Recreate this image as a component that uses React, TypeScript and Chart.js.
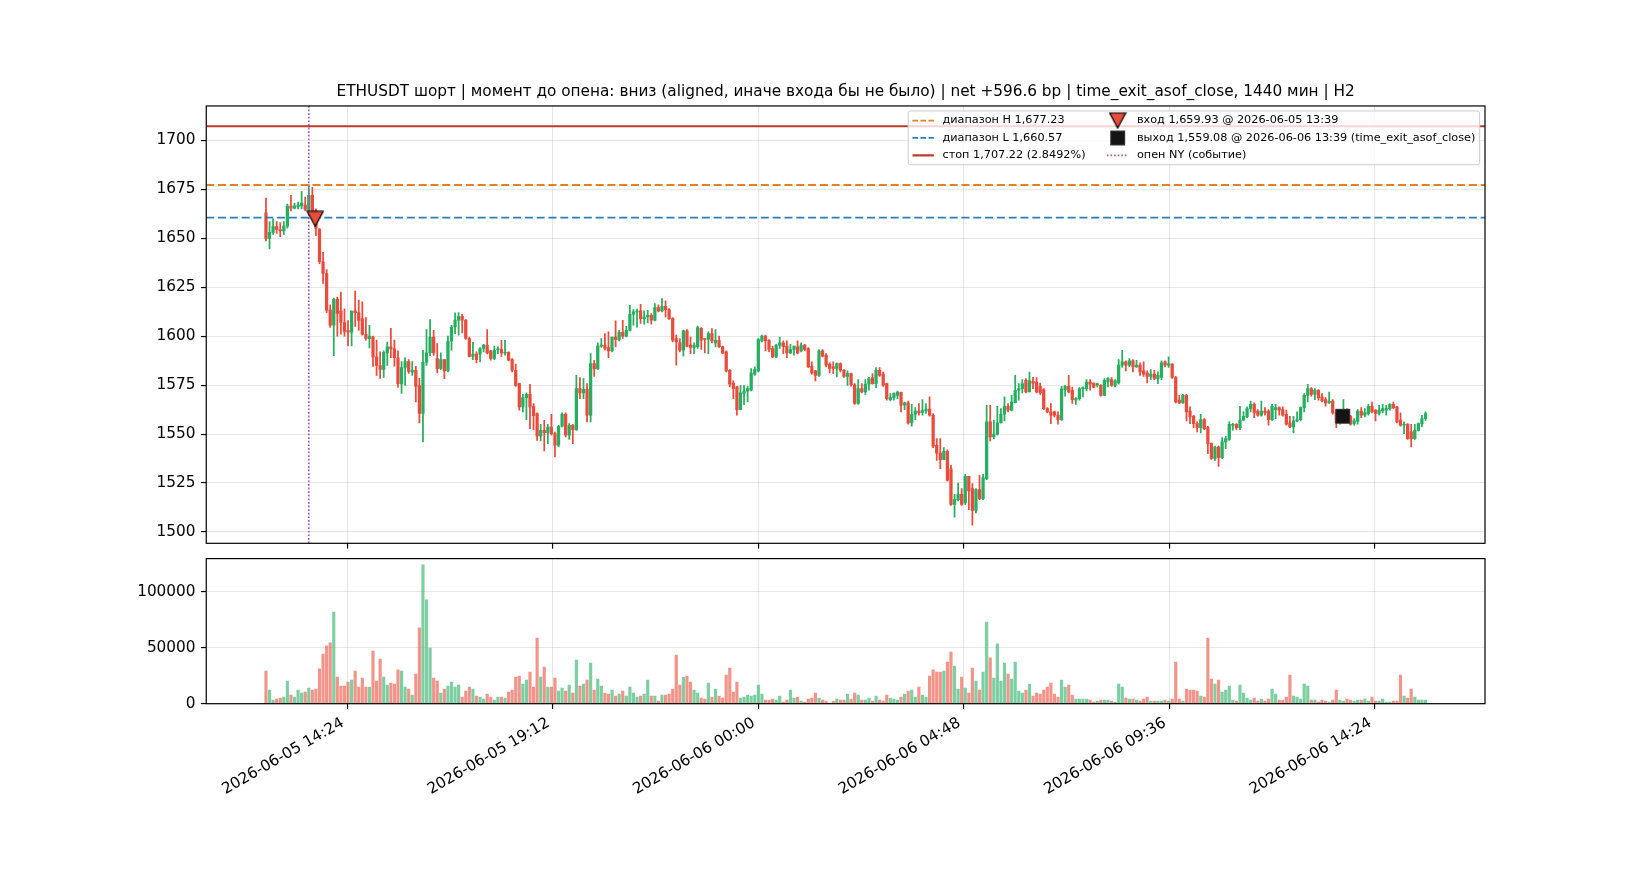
import React, { useEffect, useRef } from 'react';
import Chart from 'chart.js/auto';

const title =
  'ETHUSDT шорт | момент до опена: вниз (aligned, иначе входа бы не было) | net +596.6 bp | time_exit_asof_close, 1440 мин | H2';

// 5-minute candles, first one opens at this time
const firstCandle = '2026-06-05 12:30';
const candleStep = 5;

const opens = [
  1663, 1650, 1653, 1656, 1654.5, 1653.8, 1656.2, 1666.4, 1665.4, 1666.2,
  1666.5, 1667, 1664.4, 1671.9, 1664, 1654.7, 1638, 1632, 1613.3, 1605.6,
  1619, 1613, 1607, 1603, 1602, 1613, 1612, 1609, 1601, 1598.7,
  1599.7, 1589.4, 1585, 1583, 1591.5, 1594.6, 1593.5, 1589, 1575.6, 1584,
  1587, 1581.6, 1582.6, 1574.8, 1560.5, 1586.7, 1591.6, 1599.6, 1588.6, 1583.5,
  1588, 1582.3, 1597.4, 1604.7, 1608.2, 1610.2, 1608.2, 1598.8, 1589.7, 1590.8,
  1590.8, 1593.7, 1595.4, 1592.5, 1588.6, 1593, 1593.3, 1591.3, 1591.8, 1588,
  1582.6, 1575.8, 1563.9, 1568.6, 1570.3, 1564.2, 1560.4, 1549, 1551.9, 1550.7,
  1553.6, 1550.2, 1544.3, 1554, 1560.1, 1549.4, 1554.5, 1552.3, 1573.2, 1571,
  1572.9, 1559.6, 1586, 1583.3, 1594.9, 1595.4, 1594.2, 1592.5, 1599.6, 1598.3,
  1602, 1600, 1603, 1611.2, 1612.4, 1612.9, 1609, 1609.8, 1610.7, 1608.2,
  1614.6, 1612.9, 1615.3, 1613.6, 1609, 1598.8, 1596.6, 1592.8, 1602.7, 1595.4,
  1594.2, 1594.6, 1604, 1598.8, 1598.3, 1601.3, 1596.6, 1597.9, 1594.6, 1592,
  1582.6, 1576.1, 1574.1, 1562.5, 1570.7, 1571.9, 1572.4, 1580.6, 1582.3, 1597.6,
  1600, 1597.9, 1593.7, 1589.4, 1595.4, 1596.6, 1594.9, 1591.5, 1593.2, 1594.6,
  1592.5, 1595.4, 1593.7, 1584.6, 1582.3, 1580, 1592.5, 1590.3, 1585.7, 1584.3,
  1583.5, 1586, 1582.6, 1579.5, 1580.9, 1575.2, 1565.6, 1573.2, 1571.5, 1575.5,
  1578.9, 1575.8, 1582.6, 1580.6, 1575.8, 1567.6, 1568.6, 1569.8, 1571.3, 1564.7,
  1565.9, 1555.7, 1560.1, 1561.8, 1561, 1561.8, 1562.7, 1559.6, 1544.3, 1540.3,
  1536.9, 1541.2, 1532.3, 1514.1, 1516.5, 1519.2, 1514.8, 1528.4, 1522.1, 1511,
  1521.6, 1517, 1527.2, 1556.2, 1548.6, 1550, 1555.7, 1560.1, 1564.2, 1562.2,
  1566, 1572.4, 1573.2, 1577.5, 1571.5, 1577, 1576.6, 1574.4, 1572.7, 1563,
  1561.3, 1561.3, 1559.6, 1557.4, 1572.5, 1574.4, 1572.4, 1567.3, 1568.1, 1573.2,
  1573.2, 1576.6, 1576.1, 1575, 1574.9, 1569.8, 1576.6, 1577.8, 1575, 1576.1,
  1585.2, 1586.9, 1585.2, 1587.4, 1584.3, 1585.2, 1582.3, 1581.2, 1579.5, 1580.6,
  1578.4, 1578.9, 1586.9, 1585.2, 1585.7, 1578.9, 1567.3, 1565.9, 1569.8, 1561.8,
  1559.1, 1555.3, 1553.3, 1557.4, 1553.3, 1545.1, 1537.5, 1543.4, 1538, 1546,
  1547.2, 1554.4, 1555, 1553.3, 1557.1, 1558.8, 1563, 1565.2, 1561.8, 1559.6,
  1561.8, 1561.8, 1557.4, 1562.5, 1563.5, 1562.5, 1560.1, 1555.7, 1553.6, 1556.7,
  1557.4, 1563.5, 1569.8, 1573.2, 1570.3, 1572.4, 1569, 1567.6, 1565.9, 1566.9,
  1560.8, 1556, 1559, 1562, 1559.1, 1555.3, 1556.4, 1561.8, 1559.6, 1560.4,
  1564.2, 1562.2, 1560.5, 1561.8, 1562.2, 1563, 1565.2, 1563.9, 1557.1, 1554.5,
  1555, 1551.1, 1547.7, 1551.9, 1555.3, 1557.9,
];

const highs = [
  1670.5, 1658.6, 1660, 1658.6, 1658, 1658.5, 1667.5, 1671.9, 1668, 1668.5,
  1674, 1671, 1677.5, 1676, 1665, 1655, 1642.8, 1634, 1616, 1619.4,
  1620, 1622.5, 1614, 1608, 1613, 1623, 1618.4, 1617.5, 1609.5, 1605.5,
  1600, 1598, 1592, 1592.5, 1597, 1604, 1598, 1592.5, 1587, 1589,
  1588, 1587, 1584.6, 1578.5, 1592.8, 1603.4, 1608.5, 1603, 1596.2, 1591.5,
  1588, 1600, 1605.6, 1611.9, 1612, 1611.2, 1608.5, 1599.6, 1596.9, 1592,
  1594.2, 1595.9, 1603.4, 1592.8, 1594.9, 1594.5, 1597.9, 1597.9, 1592, 1588.5,
  1585.7, 1576.1, 1570.3, 1571, 1575.4, 1565.6, 1560.8, 1555, 1557, 1555,
  1560.1, 1551, 1554.5, 1560.8, 1560.8, 1555.3, 1555, 1580, 1578.8, 1578.3,
  1575.8, 1591.1, 1587.7, 1596.6, 1598.8, 1601.3, 1602.2, 1599.6, 1607.8, 1603,
  1608.1, 1605, 1615.8, 1613.6, 1613.8, 1616.3, 1612.9, 1613.2, 1611.6, 1616.7,
  1616, 1619.2, 1618, 1614.1, 1609.5, 1600.5, 1598.8, 1603.1, 1603.4, 1599.6,
  1596.6, 1605.1, 1604.4, 1598.8, 1602.2, 1603.9, 1603.4, 1600, 1594.9, 1592.5,
  1582.9, 1577.2, 1574.4, 1574.8, 1574.8, 1574.4, 1583.5, 1584.3, 1598.8, 1600.5,
  1600.5, 1598.3, 1594.9, 1595.9, 1599.6, 1597.6, 1597.6, 1595.9, 1594.9, 1597.6,
  1596.6, 1595.9, 1594.2, 1586.9, 1582.6, 1593.2, 1593.2, 1591.1, 1586.4, 1586.9,
  1586.4, 1586.4, 1582.9, 1582.3, 1581.2, 1575.8, 1577.8, 1575.8, 1577.8, 1579,
  1580.9, 1584, 1584, 1581.7, 1576.1, 1570.7, 1571, 1572, 1571.5, 1566.4,
  1566.9, 1565.2, 1563.5, 1565.6, 1567.6, 1565.6, 1569, 1560.5, 1547.7, 1547.7,
  1543.1, 1542, 1534, 1519.2, 1525, 1522.1, 1529.4, 1528.4, 1524.7, 1522.1,
  1528.9, 1529.4, 1564.7, 1564.7, 1557, 1564.2, 1563, 1569, 1565.6, 1569.8,
  1580, 1575.8, 1577.8, 1578.3, 1581.7, 1579, 1578.9, 1576.1, 1573.2, 1563.5,
  1565.6, 1561.8, 1561.3, 1574.4, 1574.9, 1580, 1574, 1568.6, 1573.7, 1574.1,
  1577.8, 1577.8, 1576.1, 1576.1, 1575.3, 1578.4, 1578.9, 1578.9, 1577.8, 1588,
  1592.8, 1587.4, 1588.6, 1588, 1587.7, 1586.4, 1586.9, 1582.3, 1582.9, 1582.6,
  1581.8, 1587.4, 1587.4, 1589.5, 1586, 1579.5, 1569.8, 1570.3, 1570.3, 1563.9,
  1559.6, 1556.2, 1560.1, 1557.9, 1554, 1545.5, 1543.8, 1543.8, 1548.2, 1548.9,
  1556.2, 1555.5, 1555.3, 1564.2, 1561.3, 1563.9, 1566.9, 1566, 1562.5, 1566.9,
  1563.5, 1562.5, 1565.2, 1565.2, 1563.9, 1563.9, 1562.2, 1559.1, 1559.1, 1561.3,
  1563.9, 1570.7, 1575.4, 1573.7, 1573.2, 1572.7, 1570.7, 1568.6, 1571.5, 1567.6,
  1562, 1561, 1567.6, 1563, 1559.6, 1557.9, 1562.5, 1563.5, 1563, 1565.2,
  1566.4, 1562.5, 1564.7, 1565.2, 1564.7, 1565.6, 1566.4, 1564.2, 1560.8, 1556.2,
  1555.3, 1555, 1555, 1555.7, 1559.6, 1561.3,
];

const lows = [
  1648.6, 1644.6, 1652, 1652.5, 1650.8, 1652, 1655.2, 1664, 1665, 1665,
  1665, 1664, 1664, 1663, 1651.4, 1637.1, 1627, 1612, 1604.5, 1590,
  1600, 1601, 1600, 1595, 1595, 1605, 1603, 1600.5, 1598, 1594,
  1584.6, 1580, 1578.4, 1578.9, 1585, 1589, 1584.7, 1573.8, 1570.7, 1574.8,
  1581, 1580, 1566.4, 1555.7, 1546, 1585, 1590, 1590.2, 1581.2, 1582.9,
  1578.3, 1581.7, 1592.8, 1601.3, 1600.5, 1601.7, 1598.3, 1589.4, 1588, 1586.3,
  1586.8, 1592, 1591, 1587.7, 1588, 1591.1, 1589.7, 1590.3, 1587.4, 1581.7,
  1574.4, 1562.2, 1561.3, 1557.4, 1552.8, 1552.3, 1546.8, 1546.5, 1541.4, 1545.1,
  1549.4, 1538.3, 1543.4, 1553.6, 1548.5, 1547.2, 1545.1, 1551.9, 1568.1, 1568.1,
  1556.2, 1556.2, 1579.5, 1583, 1594.2, 1592.8, 1589, 1592, 1594.5, 1597.6,
  1598.8, 1599.6, 1602.7, 1605.6, 1604.6, 1606.5, 1606.1, 1606.8, 1606.1, 1607.8,
  1612.4, 1612.4, 1609.8, 1608.5, 1597.1, 1585.2, 1592, 1589.8, 1594.5, 1591.1,
  1591.1, 1593.7, 1593.2, 1591.5, 1591.1, 1596.6, 1594.5, 1594.2, 1591.1, 1581.8,
  1574.1, 1568.1, 1559.6, 1562.5, 1565, 1566.4, 1572, 1580, 1581.8, 1597.1,
  1592.5, 1592, 1589, 1589, 1593.7, 1591.1, 1589, 1591.1, 1590.3, 1591.1,
  1592, 1592.5, 1584, 1580.6, 1577.2, 1579.5, 1589.4, 1584.3, 1581.2, 1580.9,
  1579.2, 1581.8, 1578.9, 1574.9, 1574.5, 1565.2, 1565.2, 1571, 1570.3, 1572.4,
  1575.5, 1573.7, 1579.5, 1574.4, 1567.3, 1566.9, 1567.3, 1568.1, 1561.3, 1562.5,
  1555, 1554, 1557.4, 1559.6, 1559.6, 1560.5, 1559.1, 1543.1, 1536.5, 1532.3,
  1536.9, 1526, 1513.6, 1507.6, 1515.8, 1513.6, 1514.1, 1511.4, 1503.4, 1509.7,
  1516.5, 1516.5, 1526.7, 1546.5, 1547.7, 1549.4, 1555.7, 1556.7, 1561.3, 1561.8,
  1565.9, 1567.3, 1571, 1571, 1571.5, 1573.2, 1571, 1570.3, 1562.5, 1560.8,
  1555.3, 1558.8, 1555, 1557, 1569.3, 1571, 1565.6, 1565.2, 1567.3, 1569,
  1572, 1572.4, 1573.7, 1574.1, 1569.3, 1569.8, 1574.1, 1574.4, 1574.1, 1575.5,
  1584, 1582.3, 1584.3, 1581.8, 1584, 1580, 1579.5, 1576.1, 1577.8, 1577.8,
  1575.8, 1577.8, 1584.3, 1584, 1578.4, 1565.9, 1565.6, 1565.6, 1556.7, 1555.3,
  1553.3, 1551.1, 1550.6, 1552.3, 1540, 1537, 1536.6, 1533.5, 1537.5, 1542.6,
  1546.8, 1552, 1552.3, 1552.3, 1556.7, 1558.4, 1561.3, 1558.4, 1559.1, 1559.1,
  1559.6, 1554.5, 1557, 1557.9, 1559.6, 1559.1, 1554.5, 1553.3, 1550.6, 1556.2,
  1556.7, 1561.3, 1566.4, 1569.3, 1567.6, 1567.3, 1566.4, 1564.2, 1565.6, 1560.1,
  1553.3, 1555, 1558, 1557.5, 1554.5, 1554.5, 1555, 1558.4, 1558.8, 1559.6,
  1560.8, 1556.7, 1559.6, 1560.8, 1559.6, 1562.2, 1563, 1555.7, 1554, 1550.2,
  1547.2, 1543.4, 1547.2, 1551.6, 1553.6, 1557,
];

const closes = [
  1650, 1653, 1656, 1654.5, 1653.8, 1656.2, 1666.4, 1665.4, 1666.6, 1667,
  1668, 1664.7, 1671.9, 1664, 1655, 1638, 1632, 1613.3, 1605.6, 1618.8,
  1611.6, 1607, 1602.4, 1602, 1612.8, 1612, 1608, 1601, 1598.8, 1600,
  1589.4, 1585, 1583, 1591.8, 1594.6, 1593.5, 1589, 1575.8, 1584, 1587,
  1582, 1582.6, 1574.4, 1560.5, 1586.7, 1591.5, 1599.6, 1591.5, 1583.4, 1588,
  1582.3, 1597.4, 1604.7, 1608.2, 1610.2, 1608.2, 1598.8, 1589.7, 1590.8, 1588,
  1593.7, 1595.4, 1591.5, 1588.6, 1592.8, 1593.5, 1591.5, 1591.8, 1587.7, 1582.6,
  1574.9, 1563.9, 1568.6, 1570.3, 1563.9, 1559.4, 1549, 1551.9, 1550.7, 1553.6,
  1550.2, 1544.3, 1554, 1560.1, 1549.4, 1554.5, 1552.3, 1573.2, 1571, 1572.9,
  1559.6, 1586, 1583.3, 1594.9, 1595.4, 1593.7, 1592.5, 1599.6, 1598.3, 1602,
  1600, 1603, 1611.2, 1612.4, 1612.9, 1609, 1609.8, 1610.7, 1608.2, 1614.6,
  1612.9, 1615.3, 1613.6, 1609, 1597.9, 1597.1, 1592.8, 1602.7, 1594.9, 1594.2,
  1595.4, 1604.4, 1598, 1598.3, 1601.3, 1597.6, 1597.9, 1594.6, 1591.5, 1582.3,
  1575.5, 1573.2, 1562.5, 1571, 1571.9, 1573.2, 1581.2, 1583, 1598.3, 1600,
  1597.6, 1593.2, 1589.4, 1595.4, 1596.6, 1594.6, 1591.5, 1593.2, 1594.9, 1591.5,
  1595.4, 1593.2, 1584.3, 1581.2, 1580, 1592.5, 1589.8, 1585.2, 1583.5, 1583.5,
  1586, 1582.6, 1579.5, 1580.9, 1575.2, 1565.6, 1573.2, 1571.5, 1575.5, 1578.4,
  1575.8, 1582.6, 1580, 1575, 1568.1, 1568.6, 1570.7, 1571.5, 1564.7, 1565.9,
  1555.7, 1560.1, 1561.8, 1560.8, 1562, 1562.7, 1559.6, 1543.8, 1540.3, 1536.9,
  1541.2, 1526.4, 1514.1, 1516.5, 1519.2, 1514.1, 1528.4, 1520.9, 1511, 1521.6,
  1517, 1527.8, 1556.2, 1548.5, 1550, 1555.7, 1560.1, 1564.2, 1562.2, 1566.4,
  1572.4, 1573.2, 1575.8, 1571.5, 1577.2, 1576, 1571.5, 1571, 1563, 1561.3,
  1559.6, 1559.6, 1557.4, 1573, 1574.4, 1571.5, 1567.6, 1568.1, 1573.2, 1573.6,
  1576.6, 1575.5, 1574, 1575.8, 1569.8, 1577.5, 1578.4, 1575, 1577.2, 1585.2,
  1586.9, 1585.2, 1587.4, 1584.3, 1585.2, 1581.8, 1580.6, 1579.5, 1580.6, 1578.4,
  1580, 1586.4, 1585.2, 1586, 1578.9, 1566.4, 1565.9, 1569.8, 1561.3, 1558.8,
  1555.3, 1553.3, 1557.4, 1552.8, 1545.1, 1537.5, 1543.4, 1538, 1546, 1547.7,
  1555, 1555, 1553.3, 1557.1, 1559.1, 1563, 1565.2, 1560.8, 1559.6, 1561.8,
  1560.8, 1557.4, 1564.2, 1563.5, 1562.2, 1559.6, 1555, 1553.6, 1556.7, 1557.4,
  1563.5, 1569.8, 1573.2, 1570.3, 1572.4, 1568.6, 1566.9, 1565.9, 1566.9, 1560.8,
  1556, 1559, 1562, 1559.1, 1555, 1556.7, 1561.8, 1559.6, 1561, 1564.2,
  1561.3, 1560.5, 1562.2, 1563, 1563, 1565.2, 1563.5, 1556.2, 1554.5, 1555,
  1547.7, 1547.7, 1551.9, 1555.3, 1557.9, 1560.5,
];

const volumes = [
  29200, 12200, 3300, 4200, 5100, 6000, 20200, 7700, 6000, 12200,
  9500, 10400, 14000, 12200, 13100, 31000, 44300, 51500, 54200, 81800,
  23800, 15800, 15800, 19300, 21100, 29200, 14900, 22900, 14900, 14900,
  47000, 20200, 39900, 23800, 16700, 18500, 17600, 30100, 29200, 14900,
  13100, 7700, 26500, 67600, 123800, 92600, 49700, 22900, 20200, 9500,
  13100, 15800, 19300, 14900, 16700, 6000, 11300, 14900, 13100, 6800,
  6000, 4200, 8600, 6000, 3300, 6000, 6000, 5100, 10400, 12200,
  23800, 24700, 17600, 21100, 28300, 14900, 58600, 23800, 32700, 14900,
  14900, 22900, 11300, 14000, 11300, 16700, 9500, 39000, 15800, 17600,
  21100, 36300, 12200, 22000, 15800, 9500, 8600, 12200, 6800, 8600,
  11300, 6800, 14900, 9500, 6000, 6800, 8600, 21100, 6800, 6800,
  2400, 7700, 7700, 8600, 13100, 43400, 16700, 23800, 24700, 19300,
  12200, 9500, 5100, 4200, 18500, 6000, 13100, 6800, 5100, 25600,
  31800, 10400, 19300, 5100, 6000, 7700, 6800, 7700, 16700, 8600,
  3300, 3300, 4200, 3300, 6800, 1500, 3300, 12200, 5100, 6000,
  2400, 1500, 4200, 5100, 9500, 5100, 3300, 2400, 600, 2400,
  4200, 3300, 3300, 8600, 4200, 9500, 7700, 3300, 3300, 5100,
  2400, 6800, 3300, 2400, 7700, 5100, 4200, 3300, 6000, 8600,
  11300, 12200, 6000, 14900, 7700, 6000, 24700, 30100, 28300, 28300,
  29200, 37200, 46100, 33600, 13100, 23800, 14000, 9500, 31800, 20200,
  12200, 28300, 72900, 40800, 22900, 53300, 20200, 36300, 26500, 22000,
  37200, 11300, 9500, 12200, 17600, 6800, 9500, 8600, 12200, 14900,
  18500, 8600, 6000, 21100, 14900, 16700, 7700, 4200, 4200, 4200,
  4200, 3300, 1500, 2400, 3300, 3300, 3300, 2400, 1500, 17600,
  14900, 5100, 4200, 4200, 3300, 2400, 4200, 6000, 2400, 2400,
  2400, 2400, 3300, 2400, 4200, 37200, 4200, 2400, 13100, 12200,
  12200, 11300, 6800, 6000, 58600, 22000, 17600, 21100, 10400, 12200,
  15800, 3300, 2400, 16700, 9500, 5100, 3300, 5100, 2400, 4200,
  2400, 4200, 13100, 8600, 3300, 3300, 6000, 25600, 6800, 6000,
  4200, 17600, 15800, 3300, 3300, 1500, 3300, 2400, 1500, 3300,
  12200, 3300, 2400, 4200, 3300, 2400, 3300, 3300, 4200, 2400,
  6000, 2400, 2400, 4200, 1500, 1500, 2400, 2400, 25600, 6800,
  5100, 13100, 6000, 3300, 3300, 3300,
];

const rangeHigh = 1677.23;
const rangeLow = 1660.57;
const stopPrice = 1707.22;
const stopPct = '2.8492';
const entryTime = '2026-06-05 13:39';
const entryPrice = 1659.93;
const exitTime = '2026-06-06 13:39';
const exitPrice = 1559.08;
const exitReason = 'time_exit_asof_close';
const nyOpenTime = '2026-06-05 13:30';

const xTickLabels = [
  '2026-06-05 14:24',
  '2026-06-05 19:12',
  '2026-06-06 00:00',
  '2026-06-06 04:48',
  '2026-06-06 09:36',
  '2026-06-06 14:24',
];
const priceTicks = [1500, 1525, 1550, 1575, 1600, 1625, 1650, 1675, 1700];
const volumeTicks = [0, 50000, 100000];

// view limits (minutes since 2026-06-05 00:00, price, volume)
const xView = [666.3, 2458.4];
const priceView = [1494.2, 1717.6];
const volumeView = [0, 129400];

const RED = '#e74c3c';
const GREEN = '#27ae60';
const RED_A = 'rgba(231,76,60,0.6)';
const GREEN_A = 'rgba(39,174,96,0.6)';
const ORANGE = '#e67e22';
const BLUE = '#2980b9';
const STOP = '#c0392b';
const PURPLE = '#9b59b6';
const GRID = 'rgba(176,176,176,0.3)';

const pad2 = (n: number) => String(n).padStart(2, '0');

function toMinutes(s: string): number {
  const day = parseInt(s.slice(8, 10), 10);
  const h = parseInt(s.slice(11, 13), 10);
  const m = parseInt(s.slice(14, 16), 10);
  return (day - 5) * 1440 + h * 60 + m;
}

function fromMinutes(v: number): string {
  const d = Math.floor(v / 1440);
  const rest = Math.round(v - d * 1440);
  return `2026-06-${pad2(5 + d)} ${pad2(Math.floor(rest / 60))}:${pad2(rest % 60)}`;
}

const fmtPrice = (v: number) =>
  v.toLocaleString('en-US', { minimumFractionDigits: 2, maximumFractionDigits: 2 });

function makeTriangle(): HTMLCanvasElement {
  const c = document.createElement('canvas');
  c.width = 18;
  c.height = 17;
  const g = c.getContext('2d')!;
  g.beginPath();
  g.moveTo(1, 1);
  g.lineTo(17, 1);
  g.lineTo(9, 16);
  g.closePath();
  g.fillStyle = RED;
  g.fill();
  g.lineWidth = 1.2;
  g.strokeStyle = '#000';
  g.stroke();
  return c;
}

function makeSquare(): HTMLCanvasElement {
  const c = document.createElement('canvas');
  c.width = 17;
  c.height = 17;
  const g = c.getContext('2d')!;
  g.fillStyle = '#141414';
  g.fillRect(1, 1, 15, 15);
  g.strokeStyle = '#3a3a3a';
  g.lineWidth = 1;
  g.strokeRect(1.5, 1.5, 14, 14);
  return c;
}

const framePlugin = {
  id: 'frame',
  afterDatasetsDraw(chart: any) {
    const { ctx, chartArea: a } = chart;
    ctx.save();
    ctx.strokeStyle = '#000';
    ctx.lineWidth = 1.2;
    ctx.strokeRect(a.left, a.top, a.right - a.left, a.bottom - a.top);
    ctx.restore();
  },
};

function xAxis(showLabels: boolean, height: number) {
  return {
    type: 'linear',
    min: xView[0],
    max: xView[1],
    bounds: 'data',
    offset: false,
    afterBuildTicks: (s: any) => {
      s.ticks = xTickLabels.map((l) => ({ value: toMinutes(l) }));
    },
    afterFit: (s: any) => {
      s.height = height;
    },
    grid: {
      color: GRID,
      lineWidth: 1.1,
      offset: false,
      drawTicks: true,
      tickLength: 5.35,
      tickColor: '#000',
      tickWidth: 1.2,
    },
    border: { display: false },
    ticks: {
      display: showLabels,
      autoSkip: false,
      minRotation: 30,
      maxRotation: 30,
      padding: 5,
      labelOffset: -4.5,
      color: '#000',
      font: { size: 15.3 },
      callback: (v: any) => fromMinutes(Number(v)),
    },
  };
}

function yAxis(view: number[], ticks: number[]) {
  return {
    type: 'linear',
    min: view[0],
    max: view[1],
    bounds: 'data',
    afterBuildTicks: (s: any) => {
      s.ticks = ticks.map((v) => ({ value: v }));
    },
    afterFit: (s: any) => {
      s.width = 206.25;
    },
    grid: {
      color: GRID,
      lineWidth: 1.1,
      drawTicks: true,
      tickLength: 5.35,
      tickColor: '#000',
      tickWidth: 1.2,
    },
    border: { display: false },
    ticks: {
      padding: 5.35,
      color: '#000',
      font: { size: 15.3 },
      callback: (v: any) => String(v),
    },
  };
}

const App: React.FC = () => {
  const priceRef = useRef<HTMLCanvasElement | null>(null);
  const volumeRef = useRef<HTMLCanvasElement | null>(null);

  useEffect(() => {
    if (!priceRef.current || !volumeRef.current) return;
    Chart.defaults.font.family = '"DejaVu Sans", sans-serif';
    Chart.defaults.color = '#000';

    const tri = makeTriangle();
    const sq = makeSquare();

    const t0 = toMinutes(firstCandle);
    const times = opens.map((_, i) => t0 + i * candleStep);
    const up = opens.map((o, i) => closes[i] >= o);

    const legendCol1 = [
      { label: `диапазон H ${fmtPrice(rangeHigh)}`, color: ORANGE, dash: [5.6, 2.4], width: 1.8 },
      { label: `диапазон L ${fmtPrice(rangeLow)}`, color: BLUE, dash: [5.6, 2.4], width: 1.8 },
      { label: `стоп ${fmtPrice(stopPrice)} (${stopPct}%)`, color: STOP, dash: [], width: 2.2 },
    ];
    const legendCol2 = [
      { label: `вход ${fmtPrice(entryPrice)} @ ${entryTime}`, marker: tri },
      { label: `выход ${fmtPrice(exitPrice)} @ ${exitTime} (${exitReason})`, marker: sq },
      { label: 'опен NY (событие)', color: PURPLE, dash: [1.6, 2.0], width: 1.6 },
    ];

    const legendPlugin = {
      id: 'mplLegend',
      afterDatasetsDraw(chart: any) {
        const { ctx, chartArea: a } = chart;
        const fs = 11.25;
        const pad = 4.3;
        const hl = 21.4;
        const hp = 8.6;
        const cs = 21.4;
        const pitch = 17.4;
        const row0 = 9.6;
        const boxH = 53.8;
        ctx.save();
        ctx.font = `${fs}px "DejaVu Sans"`;
        const w1 = Math.max(...legendCol1.map((e) => ctx.measureText(e.label).width));
        const w2 = Math.max(...legendCol2.map((e) => ctx.measureText(e.label).width));
        const boxW = pad * 2 + (hl + hp) * 2 + w1 + cs + w2;
        const right = a.right - 5.35;
        const left = right - boxW;
        const top = a.top + 5.0;

        ctx.beginPath();
        ctx.roundRect(left, top, boxW, boxH, 2.5);
        ctx.fillStyle = 'rgba(255,255,255,0.8)';
        ctx.fill();
        ctx.strokeStyle = '#cccccc';
        ctx.lineWidth = 1;
        ctx.stroke();

        const drawEntry = (e: any, hx: number, y: number) => {
          if (e.marker) {
            ctx.drawImage(e.marker, hx + hl / 2 - e.marker.width / 2, y - e.marker.height / 2);
          } else {
            ctx.beginPath();
            ctx.setLineDash(e.dash);
            ctx.strokeStyle = e.color;
            ctx.lineWidth = e.width;
            ctx.moveTo(hx, y);
            ctx.lineTo(hx + hl, y);
            ctx.stroke();
            ctx.setLineDash([]);
          }
          ctx.fillStyle = '#000';
          ctx.textAlign = 'left';
          ctx.textBaseline = 'middle';
          ctx.fillText(e.label, hx + hl + hp, y);
        };

        const x1 = left + pad;
        const x2 = x1 + hl + hp + w1 + cs;
        legendCol1.forEach((e, k) => drawEntry(e, x1, top + row0 + k * pitch));
        legendCol2.forEach((e, k) => drawEntry(e, x2, top + row0 + k * pitch));
        ctx.restore();
      },
    };

    const hLine = (y: number, color: string, dash: number[], width: number) => ({
      type: 'line',
      data: [
        { x: xView[0], y },
        { x: xView[1], y },
      ],
      borderColor: color,
      borderDash: dash,
      borderWidth: width,
      pointRadius: 0,
      fill: false,
      order: 1,
    });

    const nyX = toMinutes(nyOpenTime);

    const priceChart = new Chart(priceRef.current, {
      type: 'bar',
      data: {
        datasets: [
          {
            type: 'line',
            data: [{ x: toMinutes(entryTime), y: entryPrice }],
            showLine: false,
            pointStyle: tri,
            pointRadius: 8,
            order: 0,
          },
          {
            type: 'line',
            data: [{ x: toMinutes(exitTime), y: exitPrice }],
            showLine: false,
            pointStyle: sq,
            pointRadius: 8,
            order: 0,
          },
          hLine(rangeHigh, ORANGE, [8, 3.8], 1.8),
          hLine(rangeLow, BLUE, [8, 3.8], 1.8),
          hLine(stopPrice, STOP, [], 2),
          {
            type: 'line',
            data: [
              { x: nyX, y: priceView[0] },
              { x: nyX, y: priceView[1] },
            ],
            borderColor: PURPLE,
            borderDash: [1.7, 1.9],
            borderWidth: 1.7,
            pointRadius: 0,
            fill: false,
            order: 1,
          },
          {
            type: 'bar',
            data: times.map((t, i) => ({ x: t, y: [opens[i], closes[i]] })),
            backgroundColor: up.map((u) => (u ? GREEN : RED)),
            barThickness: 2.6,
            minBarLength: 1,
            grouped: false,
            order: 2,
          },
          {
            type: 'bar',
            data: times.map((t, i) => ({
              x: t,
              y: [Math.min(lows[i], opens[i], closes[i]), Math.max(highs[i], opens[i], closes[i])],
            })),
            backgroundColor: up.map((u) => (u ? GREEN : RED)),
            barThickness: 1.1,
            grouped: false,
            order: 3,
          },
        ] as any,
      },
      options: {
        animation: false,
        responsive: false,
        events: [],
        layout: { padding: { top: 82.4, right: 165, bottom: 328, left: 0 } },
        plugins: {
          legend: { display: false },
          tooltip: { enabled: false },
          title: {
            display: true,
            text: title,
            fullSize: false,
            color: '#000',
            font: { size: 15.3, weight: 'normal' },
            padding: { top: 0, bottom: 5.2 },
          },
        },
        scales: {
          x: xAxis(false, 8.7),
          y: yAxis(priceView, priceTicks),
        } as any,
      },
      plugins: [framePlugin, legendPlugin],
    });

    const volumeChart = new Chart(volumeRef.current, {
      type: 'bar',
      data: {
        datasets: [
          {
            data: times.map((t, i) => ({ x: t, y: volumes[i] })),
            backgroundColor: up.map((u) => (u ? GREEN_A : RED_A)),
            barThickness: 2.5,
            grouped: false,
          },
        ] as any,
      },
      options: {
        animation: false,
        responsive: false,
        events: [],
        layout: { padding: { top: 558.6, right: 165, bottom: 0, left: 0 } },
        plugins: {
          legend: { display: false },
          tooltip: { enabled: false },
        },
        scales: {
          x: xAxis(true, 176.3),
          y: yAxis(volumeView, volumeTicks),
        } as any,
      },
      plugins: [framePlugin],
    });

    return () => {
      priceChart.destroy();
      volumeChart.destroy();
    };
  }, []);

  return (
    <div style={{ position: 'absolute', left: 0, top: 0, width: 1650, height: 880, background: '#fff' }}>
      <canvas ref={priceRef} width={1650} height={880} style={{ position: 'absolute', left: 0, top: 0 }} />
      <canvas ref={volumeRef} width={1650} height={880} style={{ position: 'absolute', left: 0, top: 0 }} />
    </div>
  );
};

export default App;
